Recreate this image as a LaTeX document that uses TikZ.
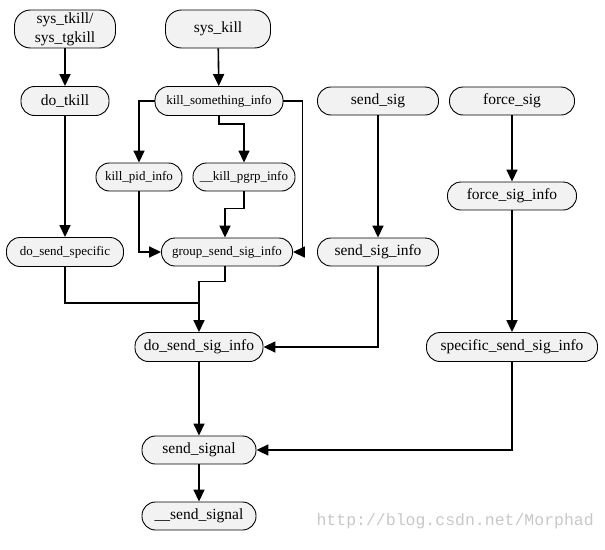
\documentclass[tikz,border=0pt]{standalone}
\usepackage{fontspec}
\setmainfont{Liberation Serif}
\newfontfamily\wmfont{Liberation Mono}
\usetikzlibrary{arrows.meta,calc}
\definecolor{boxfill}{RGB}{242,242,242}
\definecolor{wmgray}{RGB}{200,200,200}
\tikzset{
  box/.style={draw=black, line width=0.9pt, fill=boxfill, rounded corners=13.5pt, inner sep=0pt, align=center, font=\fontsize{15.5}{17}\selectfont},
  sbox/.style={box, font=\fontsize{13}{15}\selectfont},
  conn/.style={line width=1.6pt, line join=miter},
  arr/.style={conn, -{Triangle[length=12pt,width=11pt]}},
}
\begin{document}
\begin{tikzpicture}[x=1pt,y=-1pt]
\useasboundingbox (0,0) rectangle (605,549);
% nodes
\node[box, minimum width=101pt, minimum height=38pt, rounded corners=16pt, font=\fontsize{15.5}{19}\selectfont] (tk) at (65,29) {sys\_tkill/\\sys\_tgkill};
\node[box, minimum width=105pt, minimum height=38pt, rounded corners=16pt] (sk) at (218,29) {sys\_kill};
\node[box, minimum width=88pt, minimum height=29pt] (dtk) at (65,101) {do\_tkill};
\node[sbox, minimum width=128pt, minimum height=29pt] (kso) at (219,101) {kill\_something\_info};
\node[box, minimum width=121pt, minimum height=28pt] (ss) at (378,101) {send\_sig};
\node[box, minimum width=125pt, minimum height=28pt] (fs) at (512,101) {force\_sig};
\node[sbox, minimum width=86pt, minimum height=28pt] (kpid) at (139,177) {kill\_pid\_info};
\node[sbox, minimum width=102pt, minimum height=28pt] (kpg) at (244,177) {\_\_kill\_pgrp\_info};
\node[box, minimum width=129pt, minimum height=28pt] (fsi) at (512,196) {force\_sig\_info};
\node[sbox, minimum width=117pt, minimum height=29pt] (dss) at (65,252) {do\_send\_specific};
\node[sbox, minimum width=131pt, minimum height=28pt] (gss) at (227,252) {group\_send\_sig\_info};
\node[box, minimum width=121pt, minimum height=28pt] (ssi) at (378,252) {send\_sig\_info};
\node[box, minimum width=128pt, minimum height=29pt] (dsi) at (199,347) {do\_send\_sig\_info};
\node[box, minimum width=171pt, minimum height=29pt] (sps) at (512,347) {specific\_send\_sig\_info};
\node[box, minimum width=114pt, minimum height=28pt] (sig) at (199,450) {send\_signal};
\node[box, minimum width=114pt, minimum height=28pt] (sig2) at (199,516) {\_\_send\_signal};
\node[text=wmgray, font=\wmfont\fontsize{16.5}{18}\selectfont, anchor=east, inner sep=0pt] (wm) at (594,521) {http://blog.csdn.net/Morphad};
\coordinate (j) at (199,303);
% connectors
\draw[arr] (tk) -- (dtk);
\draw[arr] (sk) -- (kso);
\draw[arr] (kso.west) -| (kpid.north);
\draw[arr] (kso.south) -- ++(0,8) -| (kpg.north);
\draw[arr] (kso.east) -- ++(19,0) |- (gss.east);
\draw[arr] (kpid.south) |- (gss.west);
\draw[arr] (kpg.south) -- ++(0,17) -| ($(gss.north)+(-2,0)$);
\draw[arr] (dtk) -- (dss);
\draw[conn] (dss.south) |- (j);
\draw[arr] ($(gss.south)+(-2,0)$) -- ++(0,15) -| (dsi.north);
\draw[arr] (ss) -- (ssi);
\draw[arr] (ssi.south) |- (dsi.east);
\draw[arr] (fs) -- (fsi);
\draw[arr] (fsi) -- (sps);
\draw[arr] (dsi) -- (sig);
\draw[arr] (sps.south) |- (sig.east);
\draw[arr] (sig) -- (sig2);
\end{tikzpicture}
\end{document}
